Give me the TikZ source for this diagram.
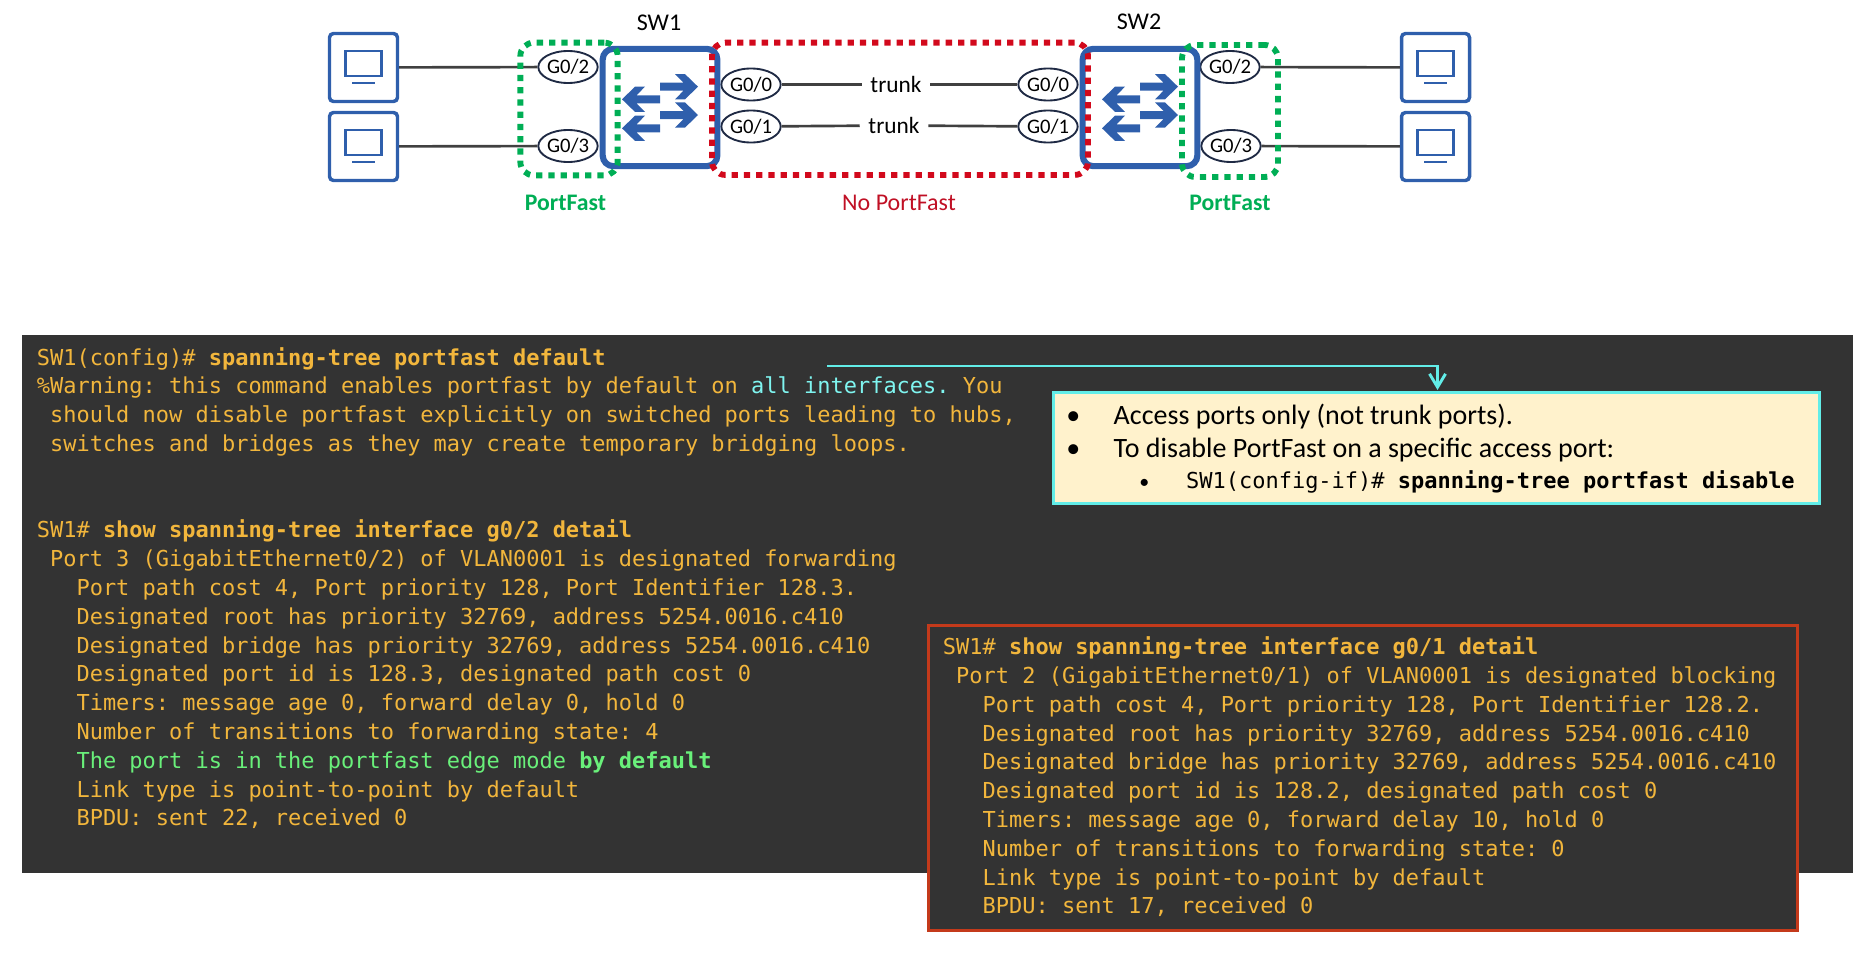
\documentclass[tikz,border=0pt]{standalone}
\usepackage{fontspec}
\setmainfont{Carlito}
\newfontfamily\codefont{DejaVu Sans Mono}
\usetikzlibrary{arrows.meta,positioning,shapes.geometric}
\definecolor{hostblue}{HTML}{2F5FAC}
\definecolor{linkgray}{HTML}{404040}
\definecolor{portnavy}{HTML}{1F2A44}
\definecolor{edgegreen}{HTML}{00AE55}
\definecolor{trunkred}{HTML}{D2091C}
\definecolor{labelred}{HTML}{C00F24}
\definecolor{termgray}{HTML}{333333}
\definecolor{termorange}{HTML}{F2B63C}
\definecolor{termcyan}{HTML}{7FF5F0}
\definecolor{termgreen}{HTML}{69F07A}
\definecolor{notecream}{HTML}{FFF2CC}
\definecolor{notecyan}{HTML}{62EDE8}
\definecolor{boxred}{HTML}{C43A1B}
\newcommand{\codesize}{\codefont\frenchspacing\fontsize{16.48}{21.6}\selectfont}
\newcommand{\uisize}[1]{\fontsize{#1}{#1}\selectfont}

\begin{document}
\begin{tikzpicture}[x=0.75pt,y=-0.75pt,>={Straight Barb[length=10pt,width=12pt]},
        hostbox/.style={draw=hostblue,fill=white,line width=2.6pt,rounded corners=3pt,
                        minimum width=51pt,minimum height=51pt,inner sep=0pt},
        portnode/.style={ellipse,draw=portnavy,fill=white,line width=1.4pt,inner sep=0pt,
                        minimum width=44pt,minimum height=24pt,font=\uisize{15.5}},
        swbox/.style={draw=hostblue,line width=4.6pt,rounded corners=8pt,
                        minimum width=86pt,minimum height=88pt,inner sep=0pt},
        zonebox/.style={line width=4.4pt,rounded corners=10pt,dash pattern=on 4.7pt off 4.5pt,
                        inner sep=0pt},
        linkline/.style={draw=linkgray,line width=2pt},
        trunklabel/.style={fill=white,inner sep=0pt,minimum width=51pt,minimum height=16pt,
                        font=\uisize{17.5}},
        termtext/.style={anchor=north west,align=left,inner sep=0pt,text=termorange,font=\codesize},
        notetext/.style={anchor=base west,inner sep=0pt,text=black,font=\uisize{21}}]
    \useasboundingbox (0,0) rectangle (1870,967);

    % hosts
    \foreach \n/\x/\y in {a/363.5/67.5,b/363.5/146.5,c/1435.5/67.5,d/1435.5/146.5} {
        \node[hostbox] (pc\n) at (\x,\y) {};
        \draw[hostblue,line width=1.8pt] (\x-18,\y-16.5) rectangle (\x+18,\y+8.5);
        \draw[hostblue,line width=1.8pt] (\x-11.5,\y+15.5) -- (\x+11.5,\y+15.5);
    }

    % ports
    \node[portnode] (s1g2) at (568,67) {G0/2};
    \node[portnode] (s1g3) at (568,146) {G0/3};
    \node[portnode] (s1g0) at (751,84.5) {G0/0};
    \node[portnode] (s1g1) at (751,126.5) {G0/1};
    \node[portnode] (s2g0) at (1048,84.5) {G0/0};
    \node[portnode] (s2g1) at (1048,126.5) {G0/1};
    \node[portnode] (s2g2) at (1230,67) {G0/2};
    \node[portnode] (s2g3) at (1231,146) {G0/3};
    \node[trunklabel] (trunka) at (896,84.5) {trunk};
    \node[trunklabel] (trunkb) at (894,125.5) {trunk};

    \draw[linkline] (pca) -- (s1g2);
    \draw[linkline] (pcb) -- (s1g3);
    \draw[linkline] (s1g0) -- (trunka) -- (s2g0);
    \draw[linkline] (s1g1) -- (trunkb) -- (s2g1);
    \draw[linkline] (s2g2) -- (pcc);
    \draw[linkline] (s2g3) -- (pcd);

    % switches
    \node[swbox] (sw1) at (660,107.5) {};
    \node[swbox] (sw2) at (1140,107.5) {};
    \node[font=\uisize{18}] (sw1name) at (659,23) {SW1};
    \node[font=\uisize{18}] (sw2name) at (1139,22) {SW2};
    \foreach \o in {0,480} {
        \foreach \y in {86.7,115} {
            \fill[hostblue] (\o+660,\y-4) -- (\o+683.5,\y-4) -- (\o+675,\y-12.6) -- (\o+685,\y-12.6)
                -- (\o+698,\y) -- (\o+685,\y+12.6) -- (\o+675,\y+12.6) -- (\o+683.5,\y+4)
                -- (\o+660,\y+4) -- cycle;
        }
        \foreach \y in {99.3,128.3} {
            \fill[hostblue] (\o+660,\y-4) -- (\o+636.5,\y-4) -- (\o+645,\y-12.6) -- (\o+635,\y-12.6)
                -- (\o+622,\y) -- (\o+635,\y+12.6) -- (\o+645,\y+12.6) -- (\o+636.5,\y+4)
                -- (\o+660,\y+4) -- cycle;
        }
    }

    % port groups
    \node[zonebox,draw=edgegreen,minimum width=73pt,minimum height=99.5pt] (zonea) at (569,109) {};
    \node[zonebox,draw=trunkred,minimum width=282pt,minimum height=99.2pt] (zoneb) at (900,108.8) {};
    \node[zonebox,draw=edgegreen,minimum width=72pt,minimum height=99pt] (zonec) at (1230,111) {};
    \node[text=edgegreen,font=\uisize{17.8}\bfseries] (fasta) at (565.5,203) {PortFast};
    \node[text=labelred,font=\uisize{18}] (fastb) at (899,203) {No PortFast};
    \node[text=edgegreen,font=\uisize{17.8}\bfseries] (fastc) at (1230,203) {PortFast};

    % terminal output
    \node[fill=termgray,anchor=north west,inner sep=0pt,minimum width=1373pt,minimum height=403.5pt] (term) at (22,335) {};
    \node[termtext] (cfgtext) at (36.6,347) {SW1(config)\# {\bfseries spanning-tree portfast default}\\
\%Warning: this command enables portfast by default on {\color{termcyan}all interfaces.} You\\
\ should now disable portfast explicitly on switched ports leading to hubs,\\
\ switches and bridges as they may create temporary bridging loops.\\[43.2pt]
SW1\# {\bfseries show spanning-tree interface g0/2 detail}\\
\ Port 3 (GigabitEthernet0/2) of VLAN0001 is designated forwarding\\
\ \ \ Port path cost 4, Port priority 128, Port Identifier 128.3.\\
\ \ \ Designated root has priority 32769, address 5254.0016.c410\\
\ \ \ Designated bridge has priority 32769, address 5254.0016.c410\\
\ \ \ Designated port id is 128.3, designated path cost 0\\
\ \ \ Timers: message age 0, forward delay 0, hold 0\\
\ \ \ Number of transitions to forwarding state: 4\\
\ \ \ {\color{termgreen}The port is in the portfast edge mode {\bfseries by default}}\\
\ \ \ Link type is point-to-point by default\\
\ \ \ BPDU: sent 22, received 0};

    % blocking port box
    \node[fill=termgray,draw=boxred,line width=1.9pt,anchor=north west,inner sep=0pt,
        minimum width=652pt,minimum height=229pt] (blockbox) at (927,624) {};
    \node[termtext] (blocktext) at (942.7,636.5) {SW1\# {\bfseries show spanning-tree interface g0/1 detail}\\
\ Port 2 (GigabitEthernet0/1) of VLAN0001 is designated blocking\\
\ \ \ Port path cost 4, Port priority 128, Port Identifier 128.2.\\
\ \ \ Designated root has priority 32769, address 5254.0016.c410\\
\ \ \ Designated bridge has priority 32769, address 5254.0016.c410\\
\ \ \ Designated port id is 128.2, designated path cost 0\\
\ \ \ Timers: message age 0, forward delay 10, hold 0\\
\ \ \ Number of transitions to forwarding state: 0\\
\ \ \ Link type is point-to-point by default\\
\ \ \ BPDU: sent 17, received 0};

    % note
    \node[fill=notecream,draw=notecyan,line width=2.2pt,anchor=north west,inner sep=0pt,
        minimum width=574.5pt,minimum height=83.5pt] (note) at (1052,391) {};
    \node[notetext] (notea) at (1066,424) {\makebox[35.6pt][l]{•}Access ports only (not trunk ports).};
    \node[notetext] (noteb) at (1066,457) {\makebox[35.6pt][l]{•}To disable PortFast on a specific access port:};
    \node[notetext] (notec) at (1139,488) {\makebox[35.2pt][l]{\uisize{15}•}{\codesize SW1(config-if)\# {\bfseries spanning-tree portfast disable}}};

    \coordinate (warnend) at (827,366);
    \coordinate (notetop) at (1437.5,390);
    \draw[->,notecyan,line width=2.2pt] (warnend) -| (notetop);
\end{tikzpicture}
\end{document}
